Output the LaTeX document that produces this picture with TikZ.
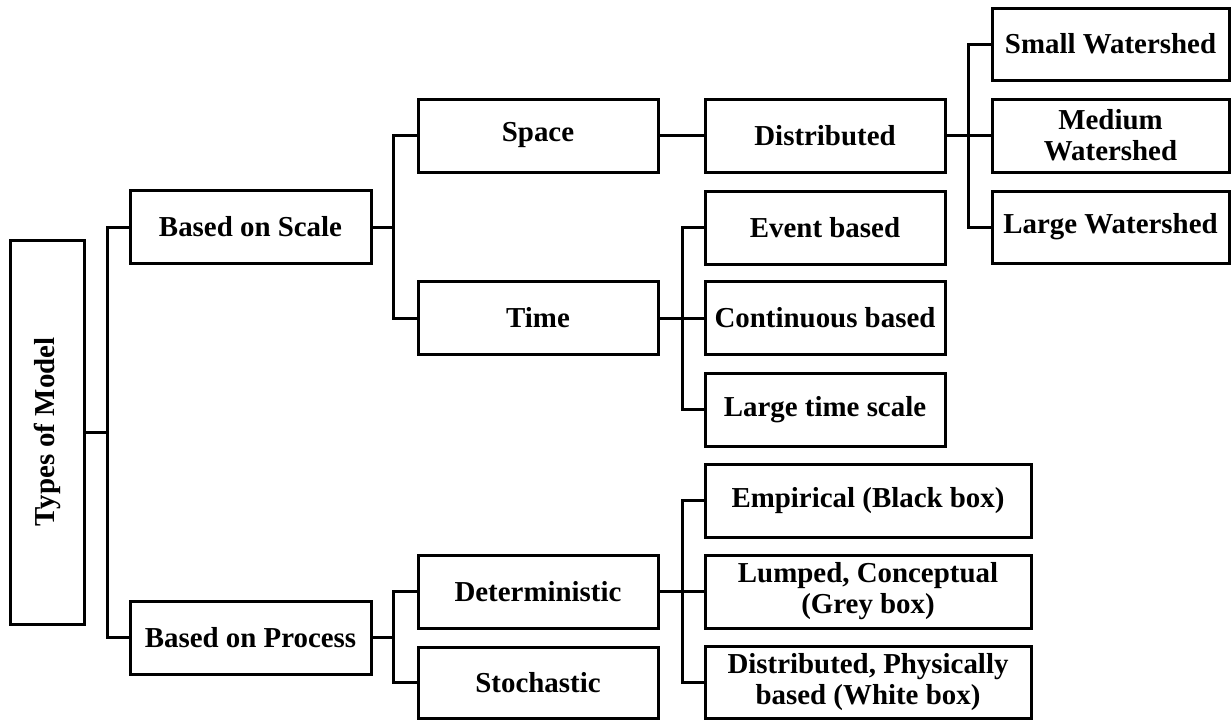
\documentclass[tikz,border=0pt]{standalone}
\usepackage{fontspec}
\setmainfont{Liberation Serif}
\begin{document}
\begin{tikzpicture}[x=0.5pt,y=-0.5pt,
  box/.style={draw, line width=1.5pt, inner sep=0pt, align=center,
    minimum height=36.5pt, font=\fontsize{14.45}{15.5}\selectfont\bfseries},
  wA/.style={minimum width=120.5pt},
  wB/.style={minimum width=120pt},
  wC/.style={minimum width=118.5pt},
  wD/.style={minimum width=163pt},
  conn/.style={line width=1.5pt}]
\useasboundingbox (0,0) rectangle (1231,719);
% level 0
\node[box, minimum width=37pt, minimum height=192pt] (types) at (47,432) {};
\node[font=\fontsize{14.45}{15.5}\selectfont\bfseries, rotate=90] (typeslabel) at (types.center) {Types of Model};
% level 1
\node[box, wA] (scale) at (250.5,227) {Based on Scale};
\node[box, wA] (process) at (250.5,637.5) {Based on Process};
% level 2
\node[box, wB] (space) at (538,135.5) {Space};
\node[box, wB] (time) at (538,318) {Time};
\node[box, wB] (det) at (538,591.5) {Deterministic};
\node[box, wB, minimum height=35.5pt] (stoch) at (538,682.5) {Stochastic};
% level 3
\node[box, wB] (distr) at (825,135.5) {Distributed};
\node[box, wB] (event) at (825,227.5) {Event based};
\node[box, wB] (cont) at (825,318) {Continuous based};
\node[box, wB] (large) at (825,409.5) {Large time scale};
\node[box, wD] (emp) at (868,500.5) {Empirical (Black box)};
\node[box, wD] (lump) at (868,591.5) {Lumped, Conceptual\\(Grey box)};
\node[box, wD, minimum height=36pt] (dphys) at (868,682) {Distributed, Physically\\based (White box)};
% level 4
\node[box, wC, minimum height=36pt] (sws) at (1110.5,44) {Small Watershed};
\node[box, wC] (mws) at (1110.5,135.5) {Medium\\Watershed};
\node[box, wC, minimum height=36pt] (lws) at (1110.5,227) {Large Watershed};
% junctions
\coordinate (j0) at (107,432);
\coordinate (j1) at (393,227);
\coordinate (j2) at (968,135.5);
\coordinate (j3) at (682,318);
\coordinate (j4) at (393,637.5);
\coordinate (j5) at (682,591.5);
% connectors
\draw[conn] (types.east) -- (j0);
\draw[conn] (scale.west) -| (j0) |- (process.west);
\draw[conn] (scale.east) -- (j1);
\draw[conn] (space.west) -| (j1) |- (time.west);
\draw[conn] (space.east) -- (distr.west);
\draw[conn] (distr.east) -- (mws.west);
\draw[conn] (sws.west) -| (j2) |- (lws.west);
\draw[conn] (time.east) -- (cont.west);
\draw[conn] (event.west) -| (j3) |- (large.west);
\draw[conn] (process.east) -- (j4);
\draw[conn] (det.west) -| (j4) |- (stoch.west);
\draw[conn] (det.east) -- (lump.west);
\draw[conn] (emp.west) -| (j5) |- (dphys.west);
\end{tikzpicture}
\end{document}
